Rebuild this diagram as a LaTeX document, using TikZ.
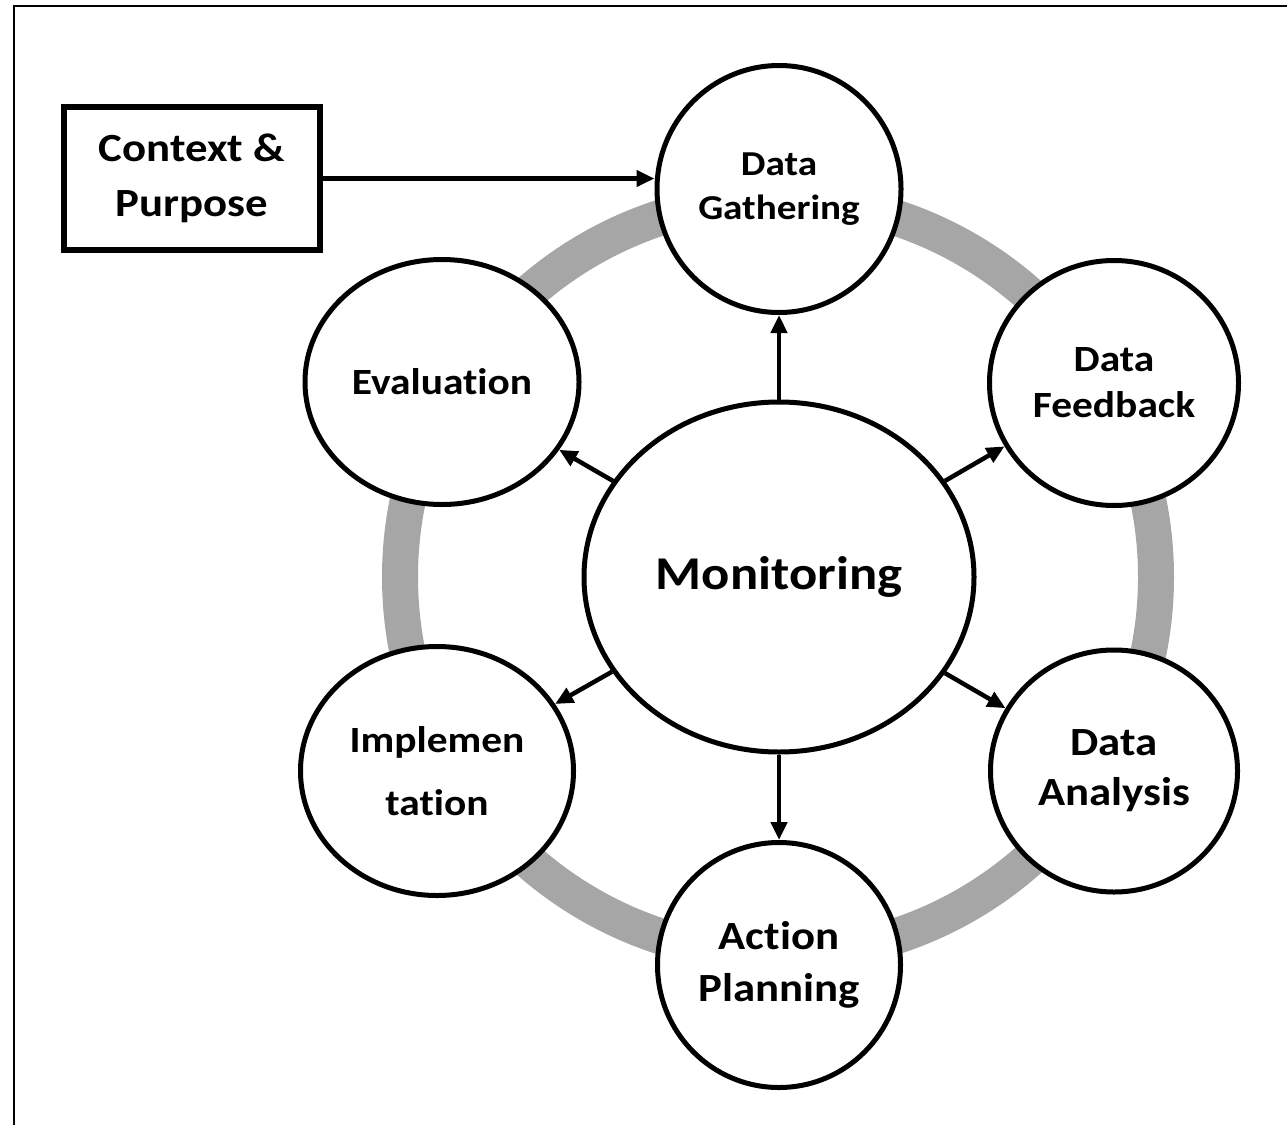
\documentclass[tikz,border=0pt]{standalone}
\usepackage{fontspec}
\newfontfamily\lab{Carlito}[FakeStretch=1.12, Ligatures=NoCommon]
\usetikzlibrary{shapes.geometric,arrows.meta}
\definecolor{ringgray}{RGB}{166,166,166}
\tikzset{
  stage/.style={ellipse, draw=black, line width=5pt, fill=white, inner sep=0pt,
    align=center, text=black},
  txt/.style 2 args={font={\lab\bfseries\fontsize{#1}{#2}\selectfont}},
  arr/.style={line width=4.5pt, -{Triangle[length=18pt,width=16pt]}},
  ctxbox/.style={rectangle, draw=black, line width=6pt, inner sep=0pt,
    align=center, minimum width=256pt, minimum height=143pt},
}
\begin{document}
\begin{tikzpicture}[x=1pt,y=-1pt]
  \useasboundingbox (0,0) rectangle (1287,1124);
  % page frame, open at the right and bottom
  \draw[line width=2.5pt] (14,1130) -- (14,6) -- (1295,6);

  % grey cycle ring behind the stages
  \draw[ringgray, line width=36pt] (778,577) circle[radius=378];

  % context box
  \node[ctxbox, txt={40}{55}] (ctx) at (192,178.5) {Context \&\\Purpose};

  % centre
  \node[stage, minimum width=390pt, minimum height=350pt, txt={47}{56}]
    (mon) at (779,577) {Monitoring};

  % stages around the ring
  \node[stage, minimum width=244pt, minimum height=247pt, txt={35}{44}]
    (dg) at (779,189) {Data\\Gathering};
  \node[stage, minimum width=249pt, minimum height=245pt, txt={37}{46}]
    (df) at (1114,383) {Data\\Feedback};
  \node[stage, minimum width=247pt, minimum height=242pt, txt={40}{50}]
    (da) at (1114,771) {Data\\Analysis};
  \node[stage, minimum width=243pt, minimum height=245pt, txt={40}{52}]
    (ap) at (779,965) {Action\\Planning};
  \node[stage, minimum width=273pt, minimum height=249pt, txt={37}{63}]
    (im) at (437,771) {Implemen\\tation};
  \node[stage, minimum width=274pt, minimum height=245pt, txt={37}{46}]
    (ev) at (442,382) {Evaluation};

  % connectors
  \draw[arr] (ctx.east) -- (ctx.east -| dg.west);
  \draw[arr] (mon) -- (dg);
  \draw[arr] (mon) -- (df);
  \draw[arr] (mon) -- (da);
  \draw[arr] (mon) -- (ap);
  \draw[arr] (mon) -- (im);
  \draw[arr] (mon) -- (ev);
\end{tikzpicture}
\end{document}
